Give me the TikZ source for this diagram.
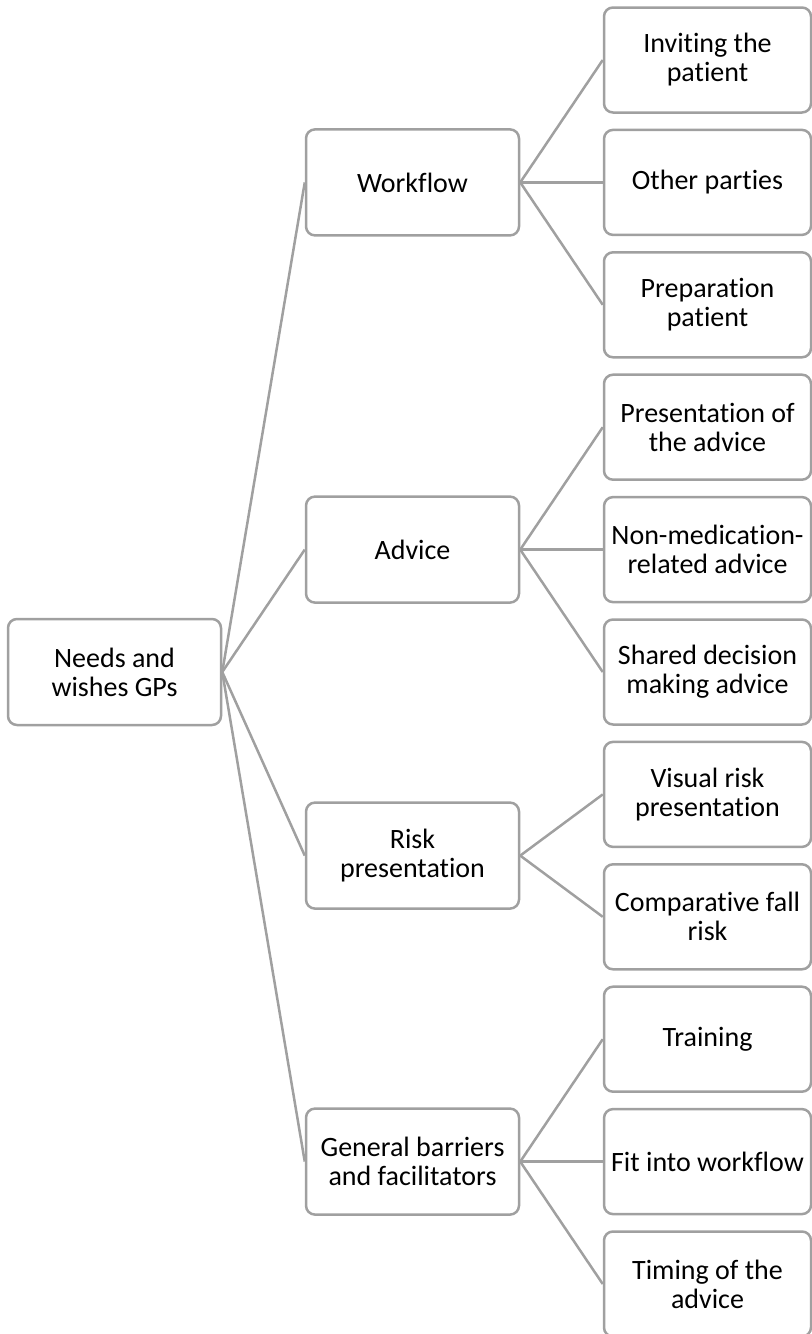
\documentclass[tikz,border=0pt]{standalone}
\usepackage{fontspec}
\setmainfont[Ligatures=NoCommon]{Carlito}
\definecolor{linegray}{RGB}{160,160,160}

\begin{document}
\begin{tikzpicture}[x=0.5pt, y=-0.5pt,
  topic/.style={draw=linegray, line width=1.25pt, rounded corners=4.5pt,
    align=center, inner sep=0pt, minimum width=106.5pt, minimum height=53pt,
    font=\fontsize{14}{14.5}\selectfont},
  leaf/.style={topic, minimum width=103.5pt, minimum height=52.5pt},
  link/.style={draw=linegray, line width=1.25pt}]

\useasboundingbox (0, 0) rectangle (812, 1334);

\node[topic] (needs) at (114.5, 672) {Needs and\\wishes GPs};

\node[topic] (workflow) at (412.5, 182.4) {Workflow};
\node[topic] (advice) at (412.5, 549.6) {Advice};
\node[topic] (risk) at (412.5, 855.6) {Risk\\presentation};
\node[topic] (barriers) at (412.5, 1161.6) {General barriers\\and facilitators};

\node[leaf] (inviting) at (707.5, 60) {Inviting the\\patient};
\node[leaf] (parties) at (707.5, 182.4) {Other parties};
\node[leaf] (preparation) at (707.5, 304.8) {Preparation\\patient};

\node[leaf] (presentation) at (707.5, 427.2) {Presentation of\\the advice};
\node[leaf] (nonmed) at (707.5, 549.6) {Non-medication-\\related advice};
\node[leaf] (shared) at (707.5, 672) {Shared decision\\making advice};

\node[leaf] (visual) at (707.5, 794.4) {Visual risk\\presentation};
\node[leaf] (comparative) at (707.5, 916.8) {Comparative fall\\risk};

\node[leaf] (training) at (707.5, 1039.2) {Training};
\node[leaf] (fit) at (707.5, 1161.6) {Fit into workflow};
\node[leaf] (timing) at (707.5, 1284) {Timing of the\\advice};

\draw[link] (needs.east) -- (workflow.west);
\draw[link] (needs.east) -- (advice.west);
\draw[link] (needs.east) -- (risk.west);
\draw[link] (needs.east) -- (barriers.west);

\draw[link] (workflow.east) -- (inviting.west);
\draw[link] (workflow.east) -- (parties.west);
\draw[link] (workflow.east) -- (preparation.west);

\draw[link] (advice.east) -- (presentation.west);
\draw[link] (advice.east) -- (nonmed.west);
\draw[link] (advice.east) -- (shared.west);

\draw[link] (risk.east) -- (visual.west);
\draw[link] (risk.east) -- (comparative.west);

\draw[link] (barriers.east) -- (training.west);
\draw[link] (barriers.east) -- (fit.west);
\draw[link] (barriers.east) -- (timing.west);

\end{tikzpicture}
\end{document}
